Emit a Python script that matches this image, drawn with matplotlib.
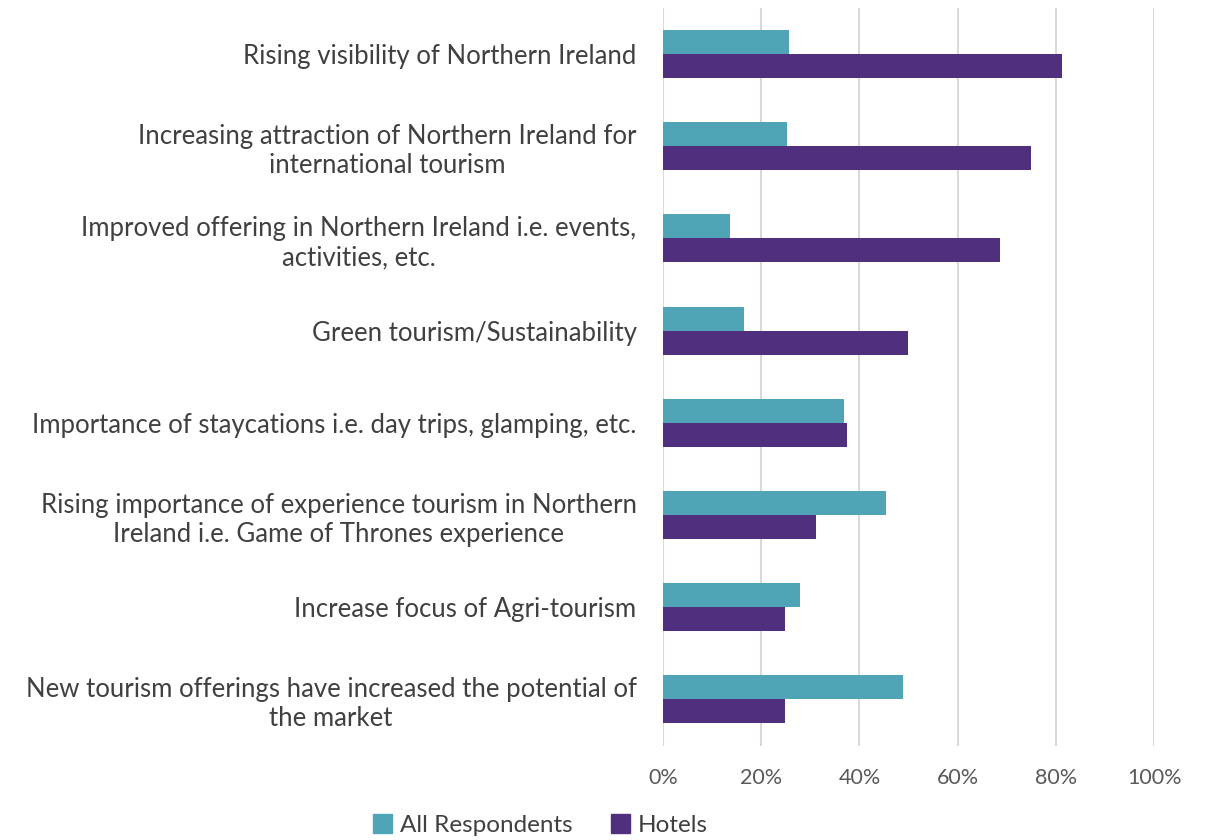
import numpy as np
import matplotlib.pyplot as plt
from matplotlib.patches import Patch

plt.rcParams['font.family'] = ['Lato', 'DejaVu Sans']

categories = [
    "Rising visibility of Northern Ireland",
    "Increasing attraction of Northern Ireland for\ninternational tourism",
    "Improved offering in Northern Ireland i.e. events,\nactivities, etc.",
    "Green tourism/Sustainability",
    "Importance of staycations i.e. day trips, glamping, etc.",
    "Rising importance of experience tourism in Northern\nIreland i.e. Game of Thrones experience",
    "Increase focus of Agri-tourism",
    "New tourism offerings have increased the potential of\nthe market",
]
all_respondents = [0.256, 0.252, 0.136, 0.165, 0.368, 0.455, 0.279, 0.488]
hotels = [0.813, 0.750, 0.687, 0.498, 0.374, 0.311, 0.249, 0.249]
ticks = [0, 0.2, 0.4, 0.6, 0.8, 1.0]
tick_labels = ['0%', '20%', '40%', '60%', '80%', '100%']

teal = '#4FA4B5'
purple = '#50307E'

fig = plt.figure(figsize=(12.06, 8.4), dpi=100)
ax = fig.add_axes([0.5497, 0.1125, 0.4073, 0.878])

y = np.arange(len(categories))
h = 0.26
ax.barh(y - h / 2, all_respondents, height=h, color=teal, label='All Respondents', zorder=3)
ax.barh(y + h / 2, hotels, height=h, color=purple, label='Hotels', zorder=3)

ax.set_xlim(0, 1)
ax.set_ylim(len(categories) - 0.5, -0.5)
ax.set_xticks(ticks)
ax.set_xticklabels(tick_labels, fontsize=15.5, color='#595959')
ax.set_yticks(y)
ax.set_yticklabels(categories, fontsize=18.5, color='#404040')
for lab in ax.get_yticklabels():
    lab.set_multialignment('center')
ax.tick_params(axis='both', length=0)
ax.tick_params(axis='y', pad=19)
ax.tick_params(axis='x', pad=16)
ax.grid(axis='x', color='#D9D9D9', linewidth=1.5, zorder=0)
for s in ax.spines.values():
    s.set_visible(False)

handles = [Patch(color=teal), Patch(color=purple)]
fig.legend(handles, ['All Respondents', 'Hotels'], loc='center',
           bbox_to_anchor=(0.448, 0.018), ncol=2, frameon=False, fontsize=17.5,
           handlelength=0.8, handleheight=0.8, handletextpad=0.3, columnspacing=1.6,
           labelcolor='#404040')

fig.savefig('out.png', dpi=100)
